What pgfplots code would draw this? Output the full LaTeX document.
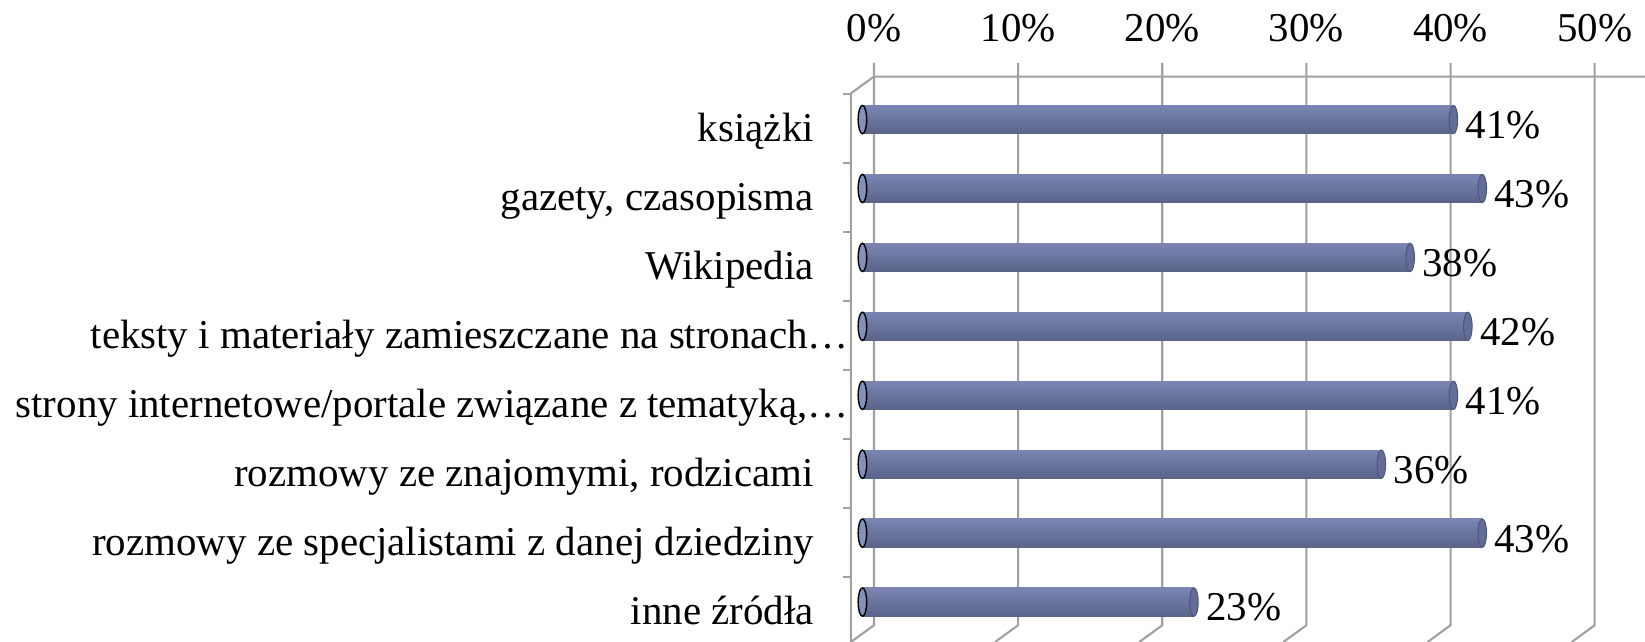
\documentclass[border=0pt]{standalone}
\usepackage{fontspec}
\setmainfont{Liberation Serif}
\usepackage{pgfplots}
\pgfplotsset{compat=1.18}
\definecolor{bartop}{HTML}{7A85B3}
\definecolor{barmid}{HTML}{909BC8}
\definecolor{barbot}{HTML}{5A6389}
\definecolor{barline}{HTML}{4E5679}
\definecolor{barend}{HTML}{646D9A}
\definecolor{capl}{HTML}{8590BD}
\definecolor{gridc}{HTML}{A0A0A0}
\newcommand{\lbl}{\fontsize{11.7bp}{14bp}\selectfont}
\pgfplotsset{
  mybar/.style={xbar, bar width=8.1bp, bar shift=0pt, draw=none,
    top color=bartop, middle color=barmid, bottom color=barbot,
    nodes near coords={\pgfmathprintnumber{\pgfplotspointmeta}\%},
    every node near coord/.append style={anchor=base west, xshift=3.3bp, yshift=-5.4bp, inner sep=0pt, font=\lbl, text=black}},
  mycap/.style={only marks, mark=*, mark size=4.05bp, mark options={xscale=0.3, fill=barend, draw=barline, line width=0.3pt}},
  mylcap/.style={only marks, mark=*, mark size=4.05bp, mark options={xscale=0.3, fill=capl, draw=none}},
}
\begin{document}
\begin{tikzpicture}
\begin{axis}[
  scale only axis, width=213.5bp, height=161.4bp,
  xmin=-0.8, xmax=51, ymin=-0.624, ymax=7.565, y dir=reverse,
  axis line style={draw=none}, major tick length=0pt,
  xtick={0.8,10.8,20.8,30.8,40.8,50.8},
  xticklabels={0\%,10\%,20\%,30\%,40\%,50\%},
  xticklabel pos=upper,
  xticklabel style={anchor=base, yshift=9.9bp, inner sep=0pt},
  ytick={0,...,7},
  yticklabels={{książki\hspace*{9.9bp}},{gazety, czasopisma\hspace*{9.9bp}},{Wikipedia\hspace*{9.9bp}},{teksty i materiały zamieszczane na stronach…},{strony internetowe/portale związane z tematyką,…},{rozmowy ze znajomymi, rodzicami\hspace*{9.9bp}},{rozmowy ze specjalistami z danej dziedziny\hspace*{9.9bp}},{inne źródła\hspace*{9.9bp}}},
  yticklabel style={anchor=base east, inner sep=0pt, xshift=-0.5bp, yshift=-6.3bp},
  tick label style={font=\lbl},
  /pgf/number format/assume math mode=true,
  clip=false,
]
% back plane grid and frame
\foreach \k in {0.8,10.8,20.8,30.8,40.8,50.8}{
  \edef\tmp{\noexpand\draw[gridc, line width=0.6pt] (axis cs:\k,-0.822) -- (axis cs:\k,7.336) -- (axis cs:\k-1.6,7.58);}\tmp
}
\draw[gridc, line width=0.6pt] (axis cs:54.29,-0.624) -- (axis cs:0.8,-0.624) -- (axis cs:-0.8,-0.380) -- (axis cs:-0.8,7.58);
\foreach \j in {0,...,7}{
  \edef\tmp{\noexpand\draw[gridc, line width=0.6pt] (axis cs:-0.8,\j-0.365) -- (axis cs:-1.38,\j-0.365);}\tmp
}
% left caps
\addplot[mylcap] coordinates {(0,0) (0,1) (0,2) (0,3) (0,4) (0,5) (0,6) (0,7)};
% bars
\addplot[mybar] coordinates {(41,0)};
\addplot[mybar] coordinates {(43,1)};
\addplot[mybar] coordinates {(38,2)};
\addplot[mybar] coordinates {(42,3)};
\addplot[mybar] coordinates {(41,4)};
\addplot[mybar] coordinates {(36,5)};
\addplot[mybar] coordinates {(43,6)};
\addplot[mybar] coordinates {(23,7)};
% right caps
\addplot[mycap] coordinates {(41,0) (43,1) (38,2) (42,3) (41,4) (36,5) (43,6) (23,7)};
\coordinate (BL) at (axis cs:-59.83,7.565);
\coordinate (TR) at (axis cs:54.29,-1.735);
\end{axis}
\pgfresetboundingbox
\path (BL) rectangle (TR);
\end{tikzpicture}
\end{document}
